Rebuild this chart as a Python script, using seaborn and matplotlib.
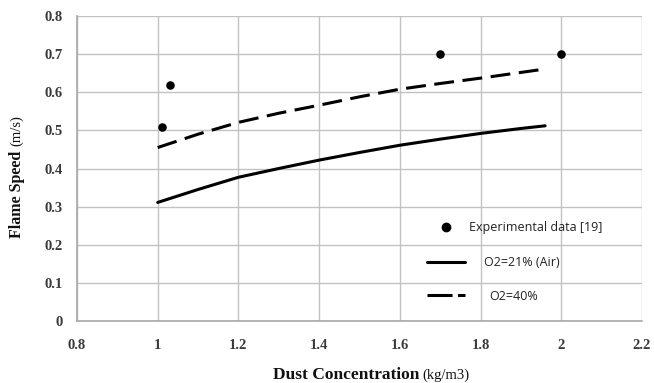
import numpy as np
import pandas as pd
import matplotlib
matplotlib.use("Agg")
import matplotlib.pyplot as plt
from matplotlib.lines import Line2D
import seaborn as sns

# Data
conc = [1.0, 1.1, 1.2, 1.3, 1.4, 1.5, 1.6, 1.7, 1.8, 1.9, 1.96]
speed_air = [0.311, 0.345, 0.377, 0.400, 0.422, 0.442, 0.461, 0.477, 0.492, 0.505, 0.512]
speed_o2_40 = [0.455, 0.490, 0.521, 0.545, 0.566, 0.588, 0.608, 0.623, 0.637, 0.652, 0.661]
exp_conc = [1.01, 1.03, 1.70, 2.00]
exp_speed = [0.51, 0.62, 0.70, 0.70]
x_ticks = [0.8, 1.0, 1.2, 1.4, 1.6, 1.8, 2.0, 2.2]
x_tick_labels = ["0.8", "1", "1.2", "1.4", "1.6", "1.8", "2", "2.2"]
y_ticks = [0, 0.1, 0.2, 0.3, 0.4, 0.5, 0.6, 0.7, 0.8]
y_tick_labels = ["0", "0.1", "0.2", "0.3", "0.4", "0.5", "0.6", "0.7", "0.8"]
legend_labels = ["Experimental data [19]", "O2=21% (Air)", "O2=40%"]

sns.set_style("white")
plt.rcParams['font.family'] = ['Liberation Serif', 'DejaVu Serif']

W, H = 654, 383
fig = plt.figure(figsize=(W / 100, H / 100), dpi=100)
ax = fig.add_axes([77 / W, 1 - 321 / H, (642 - 77) / W, (321 - 16) / H])

df_exp = pd.DataFrame({"x": exp_conc, "y": exp_speed})
df_air = pd.DataFrame({"x": conc, "y": speed_air})
df_40 = pd.DataFrame({"x": conc, "y": speed_o2_40})

sns.scatterplot(data=df_exp, x="x", y="y", ax=ax, color="black", s=38,
                edgecolor="black", linewidth=0, zorder=5, legend=False)
sns.lineplot(data=df_air, x="x", y="y", ax=ax, color="black", linewidth=2.2,
             zorder=4, legend=False)
sns.lineplot(data=df_40, x="x", y="y", ax=ax, color="black", linewidth=2.2,
             zorder=4, legend=False)
ax.lines[-1].set_dashes([6.5, 2.8])

ax.set_xlim(0.8, 2.2)
ax.set_ylim(0, 0.8)
ax.set_xticks(x_ticks)
ax.set_xticklabels(x_tick_labels)
ax.set_yticks(y_ticks)
ax.set_yticklabels(y_tick_labels)
ax.tick_params(axis='both', length=0, labelsize=10.5, colors="#3a3a3a")
ax.tick_params(axis='x', pad=13)
ax.tick_params(axis='y', pad=10)
for lab in ax.get_xticklabels() + ax.get_yticklabels():
    lab.set_fontweight("bold")
ax.grid(True, color="#c2c2c2", linewidth=1.0)
ax.set_axisbelow(True)
for side, sp in ax.spines.items():
    if side in ("top", "right"):
        sp.set_visible(False)
    else:
        sp.set_color("#a8a8a8")
        sp.set_linewidth(1.2)

ax.set_xlabel("")
ax.set_ylabel("")

# Axis labels (bold main + smaller units)
fig.text(419 / W, 1 - 375 / H, "Dust Concentration", ha="right", va="center",
         fontsize=12.5, fontweight="bold", color="#111111")
fig.text(422 / W, 1 - 375 / H, "(kg/m3)", ha="left", va="center",
         fontsize=10.5, color="#111111")
fig.text(17 / W, 1 - 151 / H, "Flame Speed", ha="center", va="top", rotation=90,
         fontsize=11.5, fontweight="bold", color="#111111")
fig.text(17 / W, 1 - 146 / H, "(m/s)", ha="center", va="bottom", rotation=90,
         fontsize=10.5, color="#111111")

# Legend: one entry per row so each text offset can match the reference
handles = [
    Line2D([], [], linestyle="none", marker="o", markersize=6, color="black"),
    Line2D([], [], color="black", linewidth=2.2),
    Line2D([], [], color="black", linewidth=2.2, dashes=[8.2, 1.8, 2.6, 40]),
]
rows_y = [228, 263, 296]
pads = [0.32, 1.55, 1.95]
for h, lab, yy, pad in zip(handles, legend_labels, rows_y, pads):
    leg = fig.legend([h], [lab], loc="center left",
                     bbox_to_anchor=(427 / W, 1 - yy / H),
                     bbox_transform=fig.transFigure, frameon=False,
                     prop={"family": "Open Sans", "size": 9},
                     handlelength=3.0, handletextpad=pad,
                     borderpad=0, borderaxespad=0)
    for t in leg.get_texts():
        t.set_color("#222222")

fig.savefig("out.png", dpi=100)
